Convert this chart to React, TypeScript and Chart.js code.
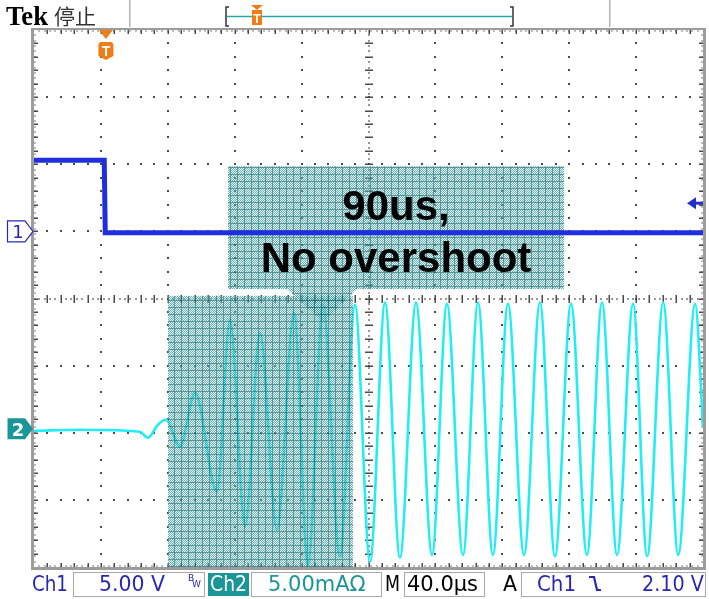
import React, { useEffect, useRef } from "react";
import { Chart, registerables } from "chart.js";

Chart.register(...registerables);

const WIDTH = 709;
const HEIGHT = 599;

// Horizontal: 40 µs/div over 10 divisions; vertical: 8 divisions
const timePerDiv = 40;
const xDivisions = 10;
const yDivisions = 8;

// Channel 1: 5.00 V/div, ground marker at +1 div
const ch1VoltsPerDiv = 5;
const ch1GroundDiv = 1;
const ch1Time = [0, 42.0, 42.6, 400];
const ch1Volts = [5.3, 5.3, -0.1, -0.1];

// Channel 2: 5.00 mA/div, ground marker at -2 div (peaks / troughs)
const ch2PerDiv = 5;
const ch2GroundDiv = -2;
const ch2Time = [
  0, 27.5, 63.4, 68.2, 74.1, 78.9, 87.3, 96.3, 109.4, 117.2, 126.2, 135.1, 145.3, 155.5, 163.8,
  172.8, 182.9, 191.9, 200.9, 209.9, 218.8, 228.4, 238.0, 246.9, 256.5, 265.5, 274.4, 283.4,
  293.0, 302.5, 311.5, 321.1, 330.6, 339.6, 348.6, 358.2, 366.6, 376.2, 385.2, 395.3, 400,
];
const ch2Current = [
  0.15, 0.22, 0.07, -0.37, 0.6, 0.97, -1.04, 2.98, -4.4, 8.42, -7.0, 7.45, -7.23, 8.94, -9.91,
  9.54, -9.24, 9.54, -9.61, 9.69, -9.3, 9.69, -9.1, 9.6, -9.1, 9.7, -9.1, 9.6, -9.1, 9.7, -9.2,
  9.6, -9.1, 9.7, -9.1, 9.6, -9.2, 9.7, -9.1, 9.6, 0.45,
];

// Trigger
const triggerTime = 43.0; // µs
const triggerLevel = 2.1; // V on Ch1

// Status-bar and annotation texts
const ch1Label = "Ch1";
const ch1ScaleLabel = "5.00 V";
const ch2Label = "Ch2";
const ch2ScaleLabel = "5.00mAΩ";
const timeScaleLabel = "40.0µs";
const trigLevelLabel = "2.10 V";
const annotationLines = ["90us,", "No overshoot"];

// Annotation regions in data units: [t0, t1, divTop, divBottom]
const calloutBox = [116.0, 316.9, 1.97, 0.14];
const focusBox = [80.1, 190.7, 0.04, -4];
const pointerTri = [
  [151.3, 0.14],
  [193.1, 0.14],
  [172.8, -0.35],
];

const BLUE = "#1f2fe0";
const CYAN = "#20eef4";
const TEXT_BLUE = "#2828b4";
const TEAL = "#1a9598";
const ORANGE = "#f07c18";

let hatchCache: CanvasPattern | null = null;
function getHatch(ctx: CanvasRenderingContext2D) {
  if (hatchCache) return hatchCache;
  const c = document.createElement("canvas");
  c.width = 7;
  c.height = 7;
  const g = c.getContext("2d")!;
  for (let i = 0; i < 7; i++) {
    for (let j = 0; j < 7; j++) {
      let col;
      if (i === 6 || j === 6) col = "rgba(30,112,118,0.75)";
      else col = (i + j) % 2 === 0 ? "rgba(50,148,152,0.72)" : "rgba(190,226,228,0.35)";
      g.fillStyle = col;
      g.fillRect(i, j, 1, 1);
    }
  }
  hatchCache = ctx.createPattern(c, "repeat");
  return hatchCache!;
}

function drawGraticule(chart: any) {
  const { ctx, chartArea: a } = chart;
  const L = a.left, R = a.right, T = a.top, B = a.bottom;
  const dx = (R - L) / xDivisions, dy = (B - T) / yDivisions;
  ctx.save();
  // frame
  ctx.fillStyle = "#9c9c9c";
  ctx.fillRect(L - 3, T - 2, 3, B - T + 5);
  ctx.fillRect(L - 3, T - 2, R - L + 6, 2);
  ctx.fillRect(R, T - 2, 3, B - T + 5);
  ctx.fillRect(L - 3, B, R - L + 6, 3);

  const dot = (px: number, py: number, s = 2) => ctx.fillRect(Math.round(px) - s / 2, Math.round(py) - s / 2, s, s);
  ctx.fillStyle = "#4a4a4a";
  // major dotted lines
  for (let k = 1; k < xDivisions; k++) {
    if (k === xDivisions / 2) continue;
    const px = L + k * dx;
    for (let m = 1; m < yDivisions * 5; m++) dot(px, T + (m * dy) / 5);
  }
  for (let j = 1; j < yDivisions; j++) {
    if (j === yDivisions / 2) continue;
    const py = T + j * dy;
    for (let m = 1; m < xDivisions * 5; m++) dot(L + (m * dx) / 5, py);
  }
  // centre lines
  const cx = L + (xDivisions / 2) * dx;
  const cy = T + (yDivisions / 2) * dy;
  for (let m = 1; m < yDivisions * 25; m++) {
    const py = T + (m * dy) / 25;
    if (m % 5 === 0) ctx.fillRect(Math.round(cx) - 4, Math.round(py) - 0.5, 8, 1.5);
    else if (m % 2 === 0) dot(cx, py, 1.5);
  }
  for (let m = 1; m < xDivisions * 25; m++) {
    const px = L + (m * dx) / 25;
    if (m % 5 === 0) ctx.fillRect(Math.round(px) - 0.5, Math.round(cy) - 4, 1.5, 8);
    else if (m % 2 === 0) dot(px, cy, 1.5);
  }
  // border ticks
  for (let m = 1; m < xDivisions * 5; m++) {
    const px = Math.round(L + (m * dx) / 5) - 0.5;
    ctx.fillRect(px, T, 1.5, 4);
    ctx.fillRect(px, B - 4, 1.5, 4);
  }
  for (let m = 1; m < yDivisions * 5; m++) {
    const py = Math.round(T + (m * dy) / 5) - 0.5;
    ctx.fillRect(L, py, 4, 1.5);
    ctx.fillRect(R - 4, py, 4, 1.5);
  }
  for (let m = 1; m < xDivisions * 25; m++) {
    if (m % 2) continue;
    const px = L + (m * dx) / 25;
    dot(px, T + 1, 1.2);
    dot(px, B - 1, 1.2);
  }
  for (let m = 1; m < yDivisions * 25; m++) {
    if (m % 2) continue;
    const py = T + (m * dy) / 25;
    dot(L + 1, py, 1.2);
    dot(R - 1, py, 1.2);
  }
  ctx.restore();
}

function drawOverlay(chart: any) {
  const { ctx, scales } = chart;
  const x = scales.x, y = scales.y;
  ctx.save();
  ctx.fillStyle = getHatch(ctx);
  const rect = (b: number[]) => {
    const x0 = x.getPixelForValue(b[0]);
    const x1 = x.getPixelForValue(b[1]);
    const y0 = y.getPixelForValue(b[2]);
    const y1 = y.getPixelForValue(b[3]);
    ctx.fillRect(x0, y0, x1 - x0, y1 - y0);
  };
  rect(calloutBox);
  rect(focusBox);
  ctx.beginPath();
  pointerTri.forEach((p, i) => {
    const px = x.getPixelForValue(p[0]);
    const py = y.getPixelForValue(p[1]);
    if (i === 0) ctx.moveTo(px, py);
    else ctx.lineTo(px, py);
  });
  ctx.closePath();
  ctx.fill();
  ctx.restore();
}

function drawAnnotationText(chart: any) {
  const { ctx, scales } = chart;
  const x = scales.x, y = scales.y;
  const cx = (x.getPixelForValue(calloutBox[0]) + x.getPixelForValue(calloutBox[1])) / 2;
  const top = y.getPixelForValue(calloutBox[2]);
  ctx.save();
  ctx.fillStyle = "#000";
  ctx.textAlign = "center";
  ctx.textBaseline = "alphabetic";
  ctx.font = "bold 42px 'Liberation Sans', Arial, sans-serif";
  ctx.fillText(annotationLines[0], cx, top + 54);
  ctx.fillText(annotationLines[1], cx, top + 106);
  ctx.restore();
}

function shield(ctx: CanvasRenderingContext2D, cx: number, top: number, w: number, h: number) {
  ctx.beginPath();
  ctx.moveTo(cx - w / 2 + 2, top);
  ctx.lineTo(cx + w / 2 - 2, top);
  ctx.lineTo(cx + w / 2, top + 2);
  ctx.lineTo(cx + w / 2, top + h - 4);
  ctx.lineTo(cx, top + h);
  ctx.lineTo(cx - w / 2, top + h - 4);
  ctx.lineTo(cx - w / 2, top + 2);
  ctx.closePath();
  ctx.fill();
}

function drawDecor(chart: any) {
  const { ctx, scales, chartArea: a } = chart;
  const x = scales.x, y = scales.y;
  ctx.save();

  // ---- top bar ----
  ctx.fillStyle = "#000";
  ctx.textBaseline = "alphabetic";
  ctx.textAlign = "left";
  ctx.font = "bold 27px 'Liberation Serif', 'Times New Roman', serif";
  ctx.fillText("Tek", 6, 25, 42);
  ctx.fillStyle = "#333";
  ctx.font = "21px 'Noto Sans CJK SC', sans-serif";
  ctx.fillText("停止", 54, 24);
  ctx.fillStyle = "#b4b4b4";
  ctx.fillRect(129, 0, 1.5, 27);
  ctx.fillRect(609, 0, 1.5, 27);
  // record bracket
  ctx.strokeStyle = "#333";
  ctx.lineWidth = 1.5;
  ctx.beginPath();
  ctx.moveTo(229, 7); ctx.lineTo(226, 7); ctx.lineTo(226, 26); ctx.lineTo(229, 26);
  ctx.moveTo(510, 7); ctx.lineTo(513, 7); ctx.lineTo(513, 26); ctx.lineTo(510, 26);
  ctx.stroke();
  ctx.strokeStyle = "#22a8a8";
  ctx.beginPath();
  ctx.moveTo(227, 16.5); ctx.lineTo(512, 16.5);
  ctx.stroke();
  // record trigger marker
  ctx.fillStyle = ORANGE;
  ctx.beginPath();
  ctx.moveTo(251, 5); ctx.lineTo(263, 5); ctx.lineTo(257, 10); ctx.closePath();
  ctx.fill();
  ctx.fillRect(252, 10, 10, 15);
  ctx.fillStyle = "#fff";
  ctx.font = "bold 12px 'Liberation Sans', Arial, sans-serif";
  ctx.textAlign = "center";
  ctx.fillText("T", 257, 23);

  // ---- trigger position marker on graticule ----
  const tx = x.getPixelForValue(triggerTime);
  ctx.fillStyle = ORANGE;
  ctx.beginPath();
  ctx.moveTo(tx - 7, a.top); ctx.lineTo(tx + 7, a.top); ctx.lineTo(tx, a.top + 9); ctx.closePath();
  ctx.fill();
  shield(ctx, tx, a.top + 12, 15, 18);
  ctx.fillStyle = "#fff";
  ctx.font = "bold 14px 'Liberation Sans', Arial, sans-serif";
  ctx.fillText("T", tx, a.top + 26);

  // ---- trigger level arrow (right) ----
  const ly = y.getPixelForValue(triggerLevel / ch1VoltsPerDiv + ch1GroundDiv);
  ctx.fillStyle = "#2030c8";
  ctx.beginPath();
  ctx.moveTo(a.right - 16, ly); ctx.lineTo(a.right - 7, ly - 6); ctx.lineTo(a.right - 7, ly + 6); ctx.closePath();
  ctx.fill();
  ctx.fillRect(a.right - 8, ly - 1.5, 8, 3);

  // ---- channel markers (left) ----
  const marker = (cy: number, filled: boolean, label: string, color: string) => {
    ctx.beginPath();
    ctx.moveTo(7.5, cy - 10.5);
    ctx.lineTo(25, cy - 10.5);
    ctx.lineTo(33, cy);
    ctx.lineTo(25, cy + 10.5);
    ctx.lineTo(7.5, cy + 10.5);
    ctx.closePath();
    if (filled) {
      ctx.fillStyle = color;
      ctx.fill();
    } else {
      ctx.fillStyle = "#fff";
      ctx.fill();
      ctx.strokeStyle = color;
      ctx.lineWidth = 1.2;
      ctx.stroke();
    }
    ctx.fillStyle = filled ? "#fff" : color;
    ctx.font = (filled ? "bold " : "") + "18px 'DejaVu Sans', sans-serif";
    ctx.textAlign = "center";
    ctx.fillText(label, 18, cy + 7);
  };
  marker(y.getPixelForValue(ch1GroundDiv), false, "1", TEXT_BLUE);
  marker(y.getPixelForValue(ch2GroundDiv) - 4, true, "2", TEAL);

  // ---- status bar ----
  const by0 = 572.5, by1 = 596.5, base = 591;
  const box = (x0: number, x1: number) => {
    ctx.strokeStyle = "#a8a8a8";
    ctx.lineWidth = 1;
    ctx.strokeRect(x0 + 0.5, by0, x1 - x0, by1 - by0);
  };
  box(73, 204);
  box(251, 381);
  box(404, 484);
  box(521, 705);
  ctx.fillStyle = TEAL;
  ctx.fillRect(208, 573, 41, 23);

  ctx.font = "21px 'DejaVu Sans', sans-serif";
  ctx.textAlign = "left";
  const txt = (s: string, x0: number, w: number, color: string) => {
    ctx.fillStyle = color;
    ctx.fillText(s, x0, base, w);
  };
  txt(ch1Label, 32, 36, TEXT_BLUE);
  txt(ch1ScaleLabel, 99, 66, TEXT_BLUE);
  txt(ch2Label, 210, 37, "#fff");
  txt(ch2ScaleLabel, 268, 99, TEAL);
  txt("M", 385, 15, "#000");
  txt(timeScaleLabel, 407, 74, "#000");
  txt("A", 503, 14, "#000");
  txt(ch1Label, 537, 39, TEXT_BLUE);
  txt(trigLevelLabel, 642, 62, TEXT_BLUE);
  // BW
  ctx.font = "9px 'DejaVu Sans', sans-serif";
  ctx.fillStyle = TEXT_BLUE;
  ctx.fillText("B", 188, 581);
  ctx.fillText("W", 192, 587);
  // falling edge symbol
  ctx.strokeStyle = TEXT_BLUE;
  ctx.lineWidth = 2.2;
  ctx.beginPath();
  ctx.moveTo(589, 577); ctx.lineTo(594, 577); ctx.lineTo(597, 590); ctx.lineTo(601, 590);
  ctx.stroke();

  ctx.restore();
}

const scopePlugin = {
  id: "scopeDecor",
  beforeDatasetsDraw(chart: any) {
    drawGraticule(chart);
  },
  afterDatasetDraw(chart: any, args: any) {
    if (args.index === 1) drawOverlay(chart);
  },
  afterDatasetsDraw(chart: any) {
    drawAnnotationText(chart);
  },
  afterDraw(chart: any) {
    drawDecor(chart);
  },
};

export default function App() {
  const ref = useRef<HTMLCanvasElement | null>(null);
  useEffect(() => {
    document.body.style.margin = "0";
    const canvas = ref.current!;
    const ch1Data = ch1Time.map((t, i) => ({ x: t, y: ch1Volts[i] / ch1VoltsPerDiv + ch1GroundDiv }));
    const ch2Data = ch2Time.map((t, i) => ({ x: t, y: ch2Current[i] / ch2PerDiv + ch2GroundDiv }));
    const chart = new Chart(canvas, {
      type: "line",
      data: {
        datasets: [
          {
            label: "Ch1",
            data: ch1Data,
            borderColor: BLUE,
            borderWidth: 5,
            pointRadius: 0,
            tension: 0,
          },
          {
            label: "Ch2",
            data: ch2Data,
            borderColor: CYAN,
            borderWidth: 2.6,
            pointRadius: 0,
            cubicInterpolationMode: "monotone",
          },
        ],
      },
      options: {
        animation: false,
        responsive: false,
        devicePixelRatio: 1,
        events: [],
        layout: { padding: { left: 34, top: 30, right: 6, bottom: 32 } },
        scales: {
          x: { type: "linear", min: 0, max: timePerDiv * xDivisions, display: false },
          y: { type: "linear", min: -yDivisions / 2, max: yDivisions / 2, display: false },
        },
        plugins: { legend: { display: false }, tooltip: { enabled: false } },
      },
      plugins: [scopePlugin],
    } as any);
    return () => chart.destroy();
  }, []);
  return <canvas ref={ref} width={WIDTH} height={HEIGHT} style={{ display: "block", width: WIDTH, height: HEIGHT }} />;
}
